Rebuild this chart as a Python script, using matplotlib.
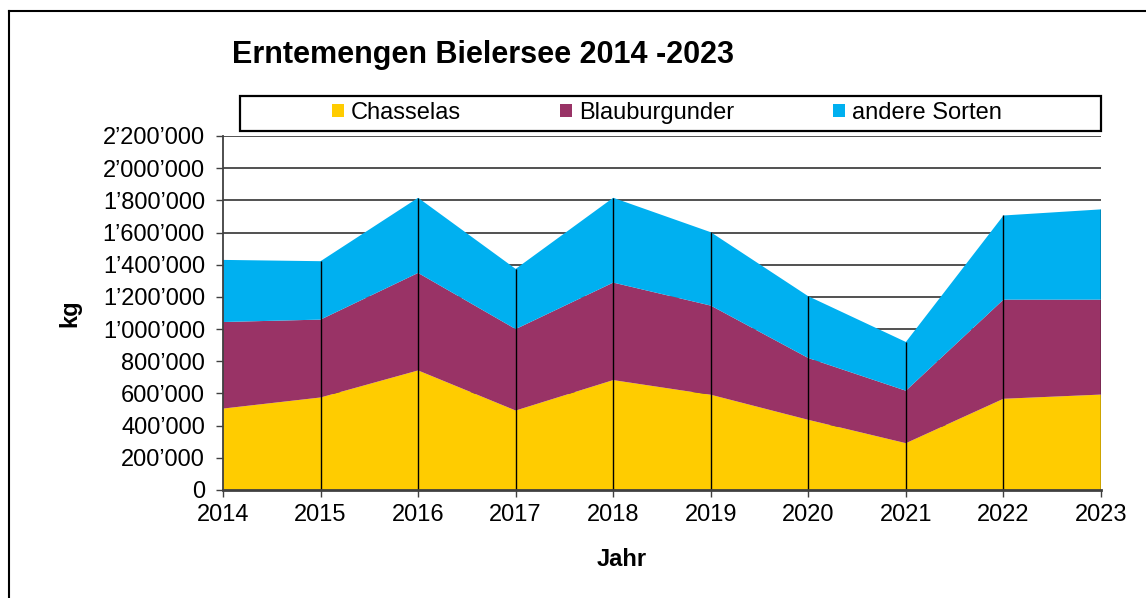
import matplotlib
matplotlib.use("Agg")
import matplotlib.pyplot as plt
from matplotlib.patches import Rectangle, Patch
from matplotlib.lines import Line2D
from matplotlib.ticker import FuncFormatter

plt.rcParams['font.family'] = ['Liberation Sans', 'DejaVu Sans']

# Daten (kg)
jahre = [2014, 2015, 2016, 2017, 2018, 2019, 2020, 2021, 2022, 2023]
chasselas = [506000, 575000, 743000, 494000, 683000, 592000, 436000, 291000, 567000, 593000]
blauburgunder = [538000, 484000, 606000, 506000, 606000, 554000, 384000, 326000, 616000, 590000]
andere = [386000, 363000, 467000, 374000, 527000, 456000, 384000, 303000, 523000, 561000]
sorten = ['Chasselas', 'Blauburgunder', 'andere Sorten']
farben = ['#FFCC00', '#993366', '#00B0F0']
y_ticks = list(range(0, 2200001, 200000))

W, H = 1146, 598
fig = plt.figure(figsize=(W / 100, H / 100), dpi=100)

# Position der Achse in Pixeln umrechnen
def fx(px):
    return px / W

def fy(py):
    return 1 - py / H

ax = fig.add_axes([fx(223), fy(490), fx(1101) - fx(223), fy(136) - fy(490)])

# Gitterlinien hinter den Flächen
for v in y_ticks[1:]:
    ax.axhline(v, color='#333333', lw=1.2, zorder=0)

ax.stackplot(jahre, chasselas, blauburgunder, andere, colors=farben, lw=0, zorder=1)

# senkrechte Linien bis zur Summe
summe = [a + b + c for a, b, c in zip(chasselas, blauburgunder, andere)]
ax.vlines(jahre[1:], 0, summe[1:], colors='black', lw=1, zorder=2)

ax.set_xlim(jahre[0], jahre[-1])
ax.set_ylim(0, 2200000)
ax.set_xticks(jahre)
ax.set_yticks(y_ticks)
ax.yaxis.set_major_formatter(FuncFormatter(lambda v, p: f"{int(v):,}".replace(',', '\u2019')))
ax.tick_params(axis='both', direction='out', length=5, width=1, color='#404040', labelsize=17)
ax.tick_params(axis='y', pad=8)
ax.tick_params(axis='x', pad=5)

for s in ['top', 'right']:
    ax.spines[s].set_visible(False)
ax.spines['left'].set_color('#404040')
ax.spines['left'].set_linewidth(1.3)
ax.spines['bottom'].set_color('#404040')
ax.spines['bottom'].set_linewidth(2)
ax.spines['left'].set_zorder(3)
ax.spines['bottom'].set_zorder(3)

# Achsenbeschriftungen
fig.text(fx(70), fy(313), 'kg', rotation=90, ha='center', va='center', fontsize=17, fontweight='bold')
fig.text(fx(622), fy(560), 'Jahr', ha='center', va='center', fontsize=17, fontweight='bold')

# Titel
fig.text(fx(232), fy(63), 'Erntemengen Bielersee 2014 -2023', ha='left', va='baseline',
         fontsize=22, fontweight='bold')

# Legende mit eigenem Rahmen
fig.add_artist(Rectangle((fx(240), fy(131)), fx(1101) - fx(240), fy(96) - fy(131),
                         transform=fig.transFigure, fill=False, ec='black', lw=1.6))
handles = [Patch(facecolor=c, edgecolor='none') for c in farben]
fig.legend(handles, sorten, loc='center', bbox_to_anchor=(fx(667), fy(113)), ncol=3,
           frameon=False, fontsize=17, handlelength=0.5, handleheight=0.5,
           handletextpad=0.3, columnspacing=4.2)

# Rahmen um die ganze Grafik
fig.add_artist(Line2D([fx(9), 1], [fy(11), fy(11)], transform=fig.transFigure, color='black', lw=1.5))
fig.add_artist(Line2D([fx(9), fx(9)], [fy(11), 0], transform=fig.transFigure, color='black', lw=1.5))

fig.savefig('out.png', dpi=100)
